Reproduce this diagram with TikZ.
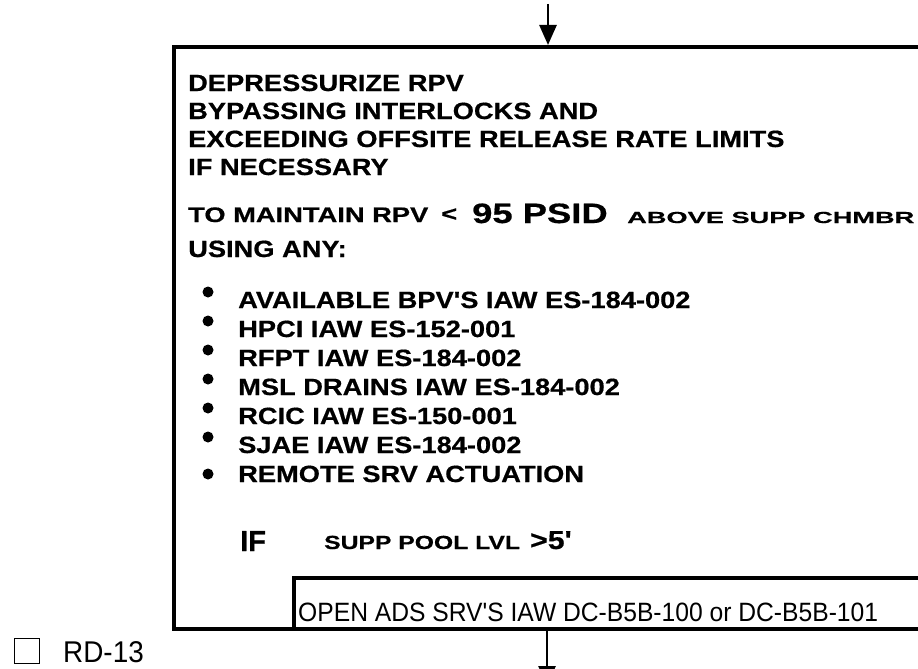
\documentclass[tikz,border=0pt]{standalone}
\usepackage{fontspec}
\setmainfont{Liberation Sans}
\newfontfamily\stepfont[FakeStretch=1.16, FakeBold=0.6]{Liberation Sans Bold}
\newfontfamily\rpvfont[FakeStretch=1.3, FakeBold=0.6]{Liberation Sans Bold}
\newfontfamily\widefont[FakeStretch=1.7, FakeBold=0.6]{Liberation Sans Bold}
\newfontfamily\psidfont[FakeStretch=1.3, FakeBold=0.6]{Liberation Sans Bold}
\newfontfamily\iffont[FakeBold=0.6]{Liberation Sans Bold}
\newfontfamily\thinfont[FakeStretch=0.93]{Liberation Sans}
\usetikzlibrary{arrows.meta}

\begin{document}
\begin{tikzpicture}[x=1pt, y=-1pt,
    frame/.style={line width=3.2pt, line join=miter},
    arrow/.style={line width=2.6pt, -{Triangle[length=20pt, width=17pt]}},
    stepline/.style={anchor=base west, inner sep=0pt, font=\fontsize{23.5}{23.5}\stepfont},
    bullet/.style={circle, fill, inner sep=0pt, minimum size=11pt},
    note/.style={anchor=base west, inner sep=0pt}
]
    \useasboundingbox (0,0) rectangle (918,669);

    % Frame corners and connector ends
    \coordinate (entry) at (548,4);
    \coordinate (boxN) at (548,45);
    \coordinate (boxNE) at (930,47);
    \coordinate (boxSW) at (174,629);
    \coordinate (boxSE) at (930,629);
    \coordinate (subNW) at (294,578);
    \coordinate (subNE) at (930,578);
    \coordinate (boxS) at (547,629);
    \coordinate (exit) at (547,686);

    % Step box and its action box
    \draw[frame] (boxNE) -| (boxSW) -- (boxSE);
    \draw[frame] (subNE) -- (subNW) -- (subNW |- boxSW);

    % Flow in and out
    \draw[arrow] (entry) -- (boxN);
    \draw[arrow] (boxS) -- (exit);

    % Step text
    \node[stepline] (l1) at (188,91) {DEPRESSURIZE RPV};
    \node[stepline] (l2) at (188,119) {BYPASSING INTERLOCKS AND};
    \node[stepline] (l3) at (188,147) {EXCEEDING OFFSITE RELEASE RATE LIMITS};
    \node[stepline] (l4) at (188,175) {IF NECESSARY};

    \node[note, font=\fontsize{21}{21}\rpvfont] (l5) at (188,222) {TO MAINTAIN RPV};
    \node[note, font=\fontsize{21}{21}\rpvfont] (lt) at (441,221) {<};
    \node[note, font=\fontsize{28}{28}\psidfont] (psid) at (472,223) {95 PSID};
    \node[note, font=\fontsize{16}{16}\widefont] (supp) at (627,223) {ABOVE SUPP CHMBR};

    \node[stepline] (l6) at (188,257) {USING ANY:};

    % Methods
    \node[stepline] (i1) at (238,308) {AVAILABLE BPV'S IAW ES-184-002};
    \node[stepline] (i2) at (238,337) {HPCI IAW ES-152-001};
    \node[stepline] (i3) at (238,366) {RFPT IAW ES-184-002};
    \node[stepline] (i4) at (238,395) {MSL DRAINS IAW ES-184-002};
    \node[stepline] (i5) at (238,424) {RCIC IAW ES-150-001};
    \node[stepline] (i6) at (238,453) {SJAE IAW ES-184-002};
    \node[stepline] (i7) at (238,482) {REMOTE SRV ACTUATION};

    \node[bullet] (d1) at (208,292) {};
    \node[bullet] (d2) at (208,321) {};
    \node[bullet] (d3) at (208,350) {};
    \node[bullet] (d4) at (208,379) {};
    \node[bullet] (d5) at (208,408) {};
    \node[bullet] (d6) at (208,437) {};
    \node[bullet] (d7) at (208,474) {};

    % Condition and action
    \node[note, font=\fontsize{29}{29}\iffont] (if) at (240,551) {IF};
    \node[note, font=\fontsize{19}{19}\rpvfont] (pool) at (324,549) {SUPP POOL LVL};
    \node[note, font=\fontsize{26}{26}\stepfont] (lvl) at (530,549) {>5'};
    \node[note, font=\fontsize{26.5}{26.5}\thinfont] (ads) at (298,621) {OPEN ADS SRV'S IAW DC-B5B-100 or DC-B5B-101};

    % Page reference
    \node[draw, line width=1.8pt, inner sep=0pt, minimum size=25pt] (chk) at (27,651) {};
    \node[note, font=\fontsize{30}{30}\thinfont] (rd) at (63,662) {RD-13};
\end{tikzpicture}
\end{document}
